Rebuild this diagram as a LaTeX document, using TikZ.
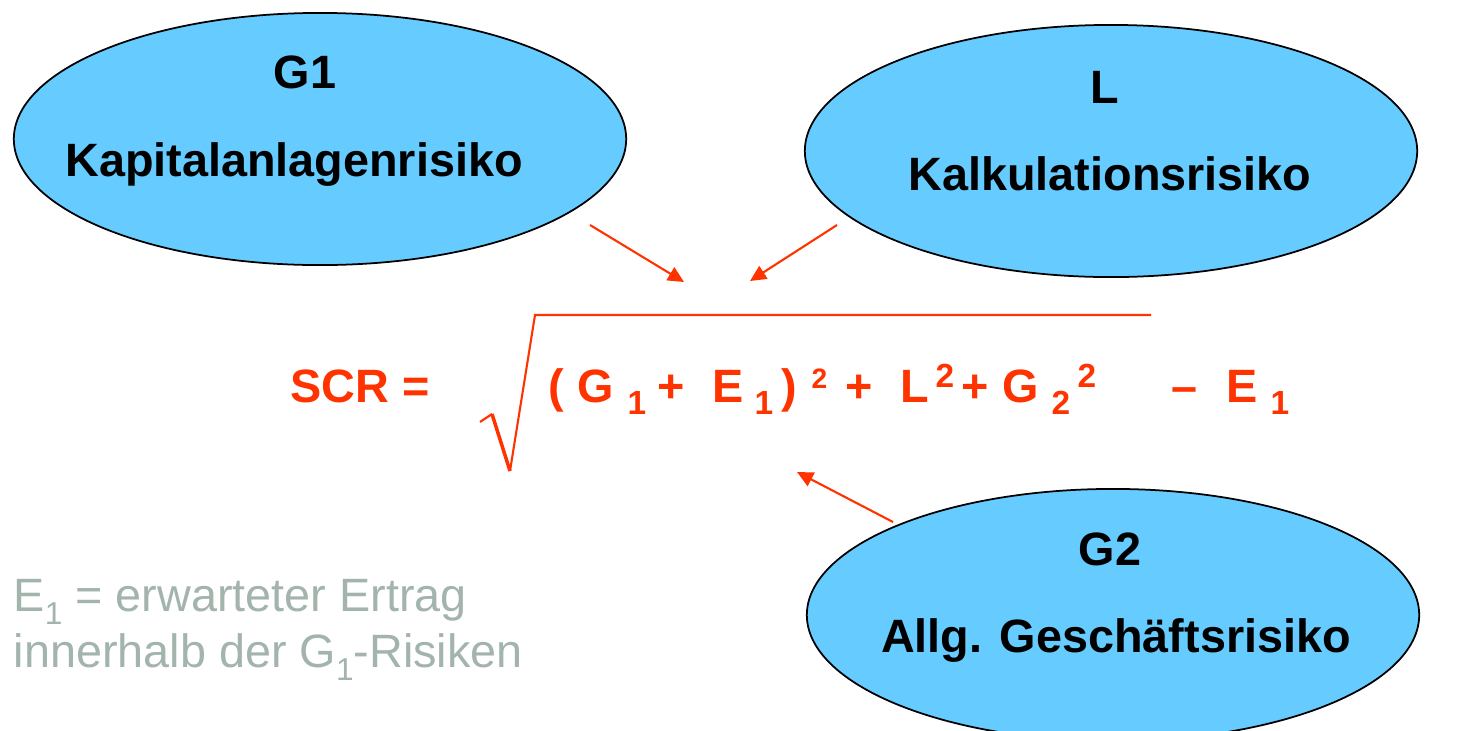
\documentclass[tikz,border=0pt]{standalone}
\usepackage{fontspec}
\setmainfont{Liberation Sans}
\usetikzlibrary{arrows.meta,shapes.geometric}
\definecolor{skyfill}{RGB}{102,204,255}
\definecolor{scrred}{RGB}{255,51,0}
\definecolor{notegray}{RGB}{163,180,172}
\newcommand{\lowone}[1]{\raisebox{-0.28em}{\fontsize{9}{9}\selectfont #1}}

\begin{document}
\begin{tikzpicture}[x=0.01cm,y=-0.01cm,
bubble/.style={draw,fill=skyfill,ellipse,inner sep=0pt,line width=0.5pt,minimum width=6.12cm,minimum height=2.52cm},
risk/.style={font=\fontsize{13.3}{16}\selectfont\bfseries,anchor=base,inner sep=0pt},
fbig/.style={font=\fontsize{13.3}{16}\selectfont\bfseries,text=scrred,anchor=base west,inner sep=0pt},
fsub/.style={font=\fontsize{9.5}{11}\selectfont\bfseries,text=scrred,anchor=base west,inner sep=0pt},
ref/.style={-{Triangle[length=1.6mm,width=1.5mm]},scrred,line width=0.6pt}]
\useasboundingbox (0,0) rectangle (1464,730);
\begin{scope}
\clip (0,0) rectangle (1464,730);
\node[bubble] (g1) at (320,139) {};
\node[bubble] (l) at (1111,151) {};
\node[bubble] (g2) at (1113,615) {};
\end{scope}
\node[risk] (g1t) at (305,88) {G1};
\node[risk] (g1n) at (294,176) {Kapitalanlagenrisiko};
\node[risk] (lt) at (1105,103) {L};
\node[risk] (ln) at (1110,190) {Kalkulationsrisiko};
\node[risk] (g2t) at (1110,565) {G2};
\node[risk] (g2n) at (1116,652) {Allg. Geschäftsrisiko};
% formula
\node[fbig] (scr) at (290,402) {SCR =};
\draw[scrred,line width=0.6pt] (480,422) -- (492,414);
\draw[scrred,line width=1pt] (492,414) -- (510,471);
\draw[scrred,line width=0.6pt] (510,471) -- (535,315) -- (1151,315);
\node[fbig] (pl) at (548,402) {(};
\node[fbig] (ga) at (577,402) {G};
\node[fsub] (ga1) at (627,414) {1};
\node[fbig] (pa) at (657,402) {+};
\node[fbig] (ea) at (712,402) {E};
\node[fsub] (ea1) at (754,414) {1};
\node[fbig] (pr) at (781,402) {)};
\node[fsub,font=\fontsize{8}{9}\selectfont\bfseries] (sq1) at (811,388) {2};
\node[fbig] (pb) at (845,402) {+};
\node[fbig] (lx) at (900,402) {L};
\node[fsub] (sq2) at (935,387) {2};
\node[fbig] (pc) at (961,402) {+};
\node[fbig] (gb) at (1002,402) {G};
\node[fsub] (gb2) at (1051,414) {2};
\node[fsub] (sq3) at (1077,387) {2};
\node[fbig] (mi) at (1171,402) {–};
\node[fbig] (eb) at (1226,402) {E};
\node[fsub] (eb1) at (1270,414) {1};
% arrows
\coordinate (a1s) at (590,225); \coordinate (a1e) at (684,282);
\coordinate (a2s) at (837,225); \coordinate (a2e) at (750,281);
\coordinate (a3s) at (893,522); \coordinate (a3e) at (797,472);
\draw[ref] (a1s) -- (a1e);
\draw[ref] (a2s) -- (a2e);
\draw[ref] (a3s) -- (a3e);
% note
\node[font=\fontsize{13.3}{15.9}\selectfont,text=notegray,anchor=base west,inner sep=0pt,align=left] (note) at (13,667)
  {E\lowone{1} = erwarteter Ertrag\\innerhalb der G\lowone{1}-Risiken};
\end{tikzpicture}
\end{document}
